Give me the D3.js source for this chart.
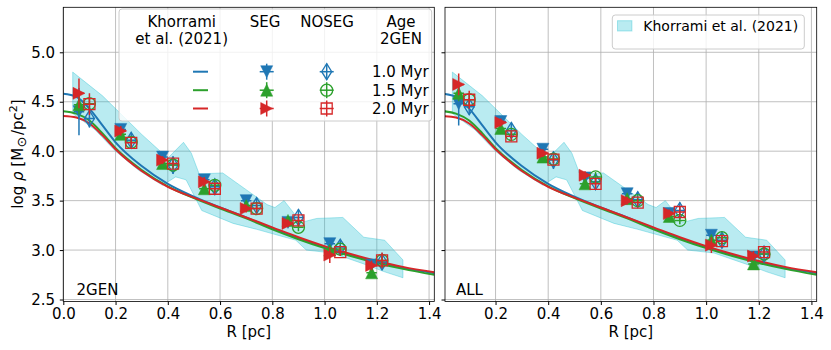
<!DOCTYPE html>
<html>
<head>
<meta charset="utf-8">
<script src="https://cdn.jsdelivr.net/npm/d3@7"></script>
<style>
  body { margin: 0; background: #fff; }
  text { font-family: "DejaVu Sans", sans-serif; fill: #000; }
</style>
</head>
<body>
<svg id="chart" width="831" height="350"></svg>
<script>
// ---- data ----
var segR = [0.06, 0.22, 0.38, 0.54, 0.70, 0.86, 1.02, 1.18];
var nosegR = [0.10, 0.26, 0.42, 0.58, 0.74, 0.90, 1.06, 1.22];
var ageLabels = ["1.0 Myr", "1.5 Myr", "2.0 Myr"];
var xErr = 0.02;

// fitted profiles (log rho vs R)
var fitR = [0, 0.05, 0.1, 0.15, 0.2, 0.3, 0.4, 0.5, 0.6, 0.7, 0.8, 0.9, 1.0, 1.1, 1.2, 1.3, 1.42];
var fitBlue = [4.58, 4.55, 4.43, 4.26, 4.09, 3.85, 3.67, 3.54, 3.43, 3.33, 3.22, 3.12, 3.03, 2.95, 2.88, 2.82, 2.765];
var fitGreen = [4.405, 4.38, 4.31, 4.18, 4.03, 3.81, 3.645, 3.525, 3.42, 3.32, 3.21, 3.11, 3.02, 2.94, 2.87, 2.81, 2.75];
var fitRed = [4.355, 4.34, 4.28, 4.16, 4.02, 3.80, 3.64, 3.53, 3.43, 3.33, 3.23, 3.13, 3.04, 2.96, 2.89, 2.83, 2.775];

// Khorrami et al. (2021) band
var bandHiR = [0.036, 0.15, 0.30, 0.40, 0.46, 0.49, 0.52, 0.61, 0.78, 0.81, 0.845, 0.91, 0.97, 1.07, 1.15, 1.23, 1.30];
var bandHi = [4.80, 4.56, 4.17, 3.93, 4.09, 3.98, 3.77, 3.78, 3.46, 3.43, 3.50, 3.28, 3.32, 3.33, 3.13, 3.10, 2.90];
var bandLoR = [0.036, 0.12, 0.20, 0.287, 0.38, 0.43, 0.47, 0.53, 0.65, 0.74, 0.89, 0.93, 1.03, 1.15, 1.23, 1.30];
var bandLo = [4.38, 4.22, 4.00, 3.81, 3.655, 3.74, 3.71, 3.40, 3.27, 3.21, 3.10, 3.00, 2.97, 2.86, 2.78, 2.72];

// 2GEN panel
var segBlue2 = [4.40, 4.22, 3.94, 3.71, 3.50, 3.28, 3.065, 2.85];
var segBlue2Err = [0.24, 0.04, 0.04, 0.04, 0.04, 0.04, 0.05, 0.04];
var segGreen2 = [4.47, 4.17, 3.875, 3.62, 3.45, 3.30, 3.00, 2.77];
var segGreen2Err = [0.10, 0.04, 0.03, 0.04, 0.03, 0.04, 0.04, 0.04];
var segRed2 = [4.585, 4.205, 3.91, 3.69, 3.42, 3.27, 2.95, 2.845];
var segRed2Err = [0.15, 0.05, 0.04, 0.05, 0.04, 0.04, 0.08, 0.05];
var nosegBlue2 = [4.33, 4.11, 3.86, 3.64, 3.45, 3.33, 3.03, 2.88];
var nosegBlue2Err = [0.09, 0.08, 0.09, 0.08, 0.08, 0.08, 0.07, 0.07];
var nosegGreen2 = [4.48, 4.09, 3.86, 3.655, 3.42, 3.23, 3.01, 2.895];
var nosegGreen2Err = [0.06, 0.04, 0.04, 0.05, 0.04, 0.04, 0.04, 0.04];
var nosegRed2 = [4.475, 4.085, 3.875, 3.62, 3.42, 3.30, 2.98, 2.895];
var nosegRed2Err = [0.11, 0.05, 0.04, 0.05, 0.04, 0.05, 0.04, 0.08];

// ALL panel
var segBlueA = [4.48, 4.30, 4.02, 3.73, 3.57, 3.37, 3.15, 2.93];
var segBlueAErr = [0.22, 0.04, 0.04, 0.04, 0.04, 0.04, 0.04, 0.04];
var segGreenA = [4.585, 4.23, 3.94, 3.67, 3.52, 3.34, 3.10, 2.86];
var segGreenAErr = [0.08, 0.04, 0.03, 0.04, 0.03, 0.04, 0.04, 0.04];
var segRedA = [4.675, 4.29, 3.98, 3.757, 3.50, 3.37, 3.05, 2.94];
var segRedAErr = [0.11, 0.04, 0.04, 0.04, 0.04, 0.04, 0.08, 0.05];
var nosegBlueA = [4.45, 4.21, 3.91, 3.69, 3.51, 3.40, 3.10, 2.96];
var nosegBlueAErr = [0.08, 0.08, 0.09, 0.08, 0.08, 0.08, 0.07, 0.06];
var nosegGreenA = [4.52, 4.17, 3.92, 3.74, 3.50, 3.30, 3.125, 2.96];
var nosegGreenAErr = [0.06, 0.04, 0.04, 0.05, 0.04, 0.04, 0.04, 0.04];
var nosegRedA = [4.52, 4.15, 3.915, 3.67, 3.48, 3.385, 3.09, 2.98];
var nosegRedAErr = [0.09, 0.05, 0.04, 0.05, 0.04, 0.05, 0.05, 0.05];

var xTickVals = [0, 0.2, 0.4, 0.6, 0.8, 1.0, 1.2, 1.4];
var yTickVals = [2.5, 3.0, 3.5, 4.0, 4.5, 5.0];

// ---- styles ----
var blue = "#1f77b4", green = "#2ca02c", red = "#d62728", cyan = "#17becf";
var svg = d3.select("#chart");
var plotTop = 7.3, plotBottom = 301.5;

var y = d3.scaleLinear().domain([2.48, 5.455]).range([plotBottom, plotTop]);

function markerPath(type) {
  switch (type) {
    case "v": return "M-6,-6L6,-6L0,6Z";
    case "^": return "M-6,6L6,6L0,-6Z";
    case ">": return "M-6,-6L6,0L-6,6Z";
    case "d": return "M0,-8L5,0L0,8L-5,0Z";
    case "s": return "M-5.5,-5.5H5.5V5.5H-5.5Z";
    case "o": return d3.arc()({innerRadius: 0, outerRadius: 6, startAngle: 0, endAngle: 2 * Math.PI});
  }
}

function makeSeries(r, vals, errs, color, marker) {
  return r.map(function (d, i) {
    return {r: d, v: vals[i], e: errs[i], color: color, marker: marker};
  });
}

var panels = [
  {
    id: "p2gen", x0: 63.3, x1: 434.3, xDomain: [0, 1.42], ticks: xTickVals,
    yLabels: true, tag: "2GEN", tagX: 76.5,
    series: [
      makeSeries(segR, segBlue2, segBlue2Err, blue, "v"),
      makeSeries(nosegR, nosegBlue2, nosegBlue2Err, blue, "d"),
      makeSeries(segR, segGreen2, segGreen2Err, green, "^"),
      makeSeries(nosegR, nosegGreen2, nosegGreen2Err, green, "o"),
      makeSeries(segR, segRed2, segRed2Err, red, ">"),
      makeSeries(nosegR, nosegRed2, nosegRed2Err, red, "s")
    ]
  },
  {
    id: "pall", x0: 445, x1: 816.7, xDomain: [0.008, 1.42], ticks: xTickVals.slice(1),
    yLabels: false, tag: "ALL", tagX: 456,
    series: [
      makeSeries(segR, segBlueA, segBlueAErr, blue, "v"),
      makeSeries(nosegR, nosegBlueA, nosegBlueAErr, blue, "d"),
      makeSeries(segR, segGreenA, segGreenAErr, green, "^"),
      makeSeries(nosegR, nosegGreenA, nosegGreenAErr, green, "o"),
      makeSeries(segR, segRedA, segRedAErr, red, ">"),
      makeSeries(nosegR, nosegRedA, nosegRedAErr, red, "s")
    ]
  }
];

panels.forEach(drawPanel);

function drawPanel(p) {
  var x = d3.scaleLinear().domain(p.xDomain).range([p.x0, p.x1]);
  var g = svg.append("g");

  svg.append("clipPath").attr("id", "clip-" + p.id)
    .append("rect").attr("x", p.x0).attr("y", plotTop)
    .attr("width", p.x1 - p.x0).attr("height", plotBottom - plotTop);

  // grid
  g.append("g").selectAll("line").data(p.ticks).join("line")
    .attr("x1", function (d) { return x(d); }).attr("x2", function (d) { return x(d); })
    .attr("y1", plotTop).attr("y2", plotBottom)
    .attr("stroke", "#b0b0b0").attr("stroke-width", 0.8);
  g.append("g").selectAll("line").data(yTickVals).join("line")
    .attr("x1", p.x0).attr("x2", p.x1)
    .attr("y1", function (d) { return y(d); }).attr("y2", function (d) { return y(d); })
    .attr("stroke", "#b0b0b0").attr("stroke-width", 0.8);

  var plot = g.append("g").attr("clip-path", "url(#clip-" + p.id + ")");

  // band
  var bandPts = bandHiR.map(function (r, i) { return [x(r), y(bandHi[i])]; })
    .concat(bandLoR.map(function (r, i) { return [x(r), y(bandLo[i])]; }).reverse());
  plot.append("path")
    .attr("d", d3.line()(bandPts) + "Z")
    .attr("fill", cyan).attr("fill-opacity", 0.3)
    .attr("stroke", cyan).attr("stroke-opacity", 0.35).attr("stroke-width", 1);

  // fits
  var line = d3.line()
    .x(function (d) { return x(d[0]); })
    .y(function (d) { return y(d[1]); })
    .curve(d3.curveMonotoneX);
  [[fitBlue, blue], [fitGreen, green], [fitRed, red]].forEach(function (f) {
    plot.append("path")
      .attr("d", line(fitR.map(function (r, i) { return [r, f[0][i]]; })))
      .attr("fill", "none").attr("stroke", f[1]).attr("stroke-width", 2);
  });

  // error bars + markers
  p.series.forEach(function (s) {
    var open = "dos".indexOf(s[0].marker) >= 0;
    var sg = plot.append("g");
    var pts = sg.selectAll("g").data(s).join("g");
    pts.append("line")
      .attr("x1", function (d) { return x(d.r); }).attr("x2", function (d) { return x(d.r); })
      .attr("y1", function (d) { return y(d.v - d.e); }).attr("y2", function (d) { return y(d.v + d.e); })
      .attr("stroke", function (d) { return d.color; }).attr("stroke-width", 1.5);
    pts.append("line")
      .attr("x1", function (d) { return x(d.r - xErr); }).attr("x2", function (d) { return x(d.r + xErr); })
      .attr("y1", function (d) { return y(d.v); }).attr("y2", function (d) { return y(d.v); })
      .attr("stroke", function (d) { return d.color; }).attr("stroke-width", 1.5);
    pts.append("path")
      .attr("transform", function (d) { return "translate(" + x(d.r) + "," + y(d.v) + ")"; })
      .attr("d", function (d) { return markerPath(d.marker); })
      .attr("fill", function (d) { return open ? "none" : d.color; })
      .attr("stroke", function (d) { return d.color; })
      .attr("stroke-width", open ? 1.3 : 0.5);
  });

  // axes
  var xAxis = d3.axisBottom(x).tickValues(p.ticks).tickFormat(d3.format(".1f"))
    .tickSize(3.5).tickSizeOuter(0);
  var ax = svg.append("g").attr("transform", "translate(0," + plotBottom + ")").call(xAxis);
  ax.select(".domain").remove();
  ax.selectAll("text").attr("y", 17.8).attr("dy", null)
    .style("font-size", "15px").style("font-family", "DejaVu Sans");

  var yAxis = d3.axisLeft(y).tickValues(yTickVals).tickSize(3.5).tickSizeOuter(0)
    .tickFormat(p.yLabels ? d3.format(".1f") : function () { return ""; });
  var ay = svg.append("g").attr("transform", "translate(" + p.x0 + ",0)").call(yAxis);
  ay.select(".domain").remove();
  ay.selectAll("text").attr("x", -8.3).attr("dy", "0.35em")
    .style("font-size", "15px").style("font-family", "DejaVu Sans");

  svg.append("rect")
    .attr("x", p.x0).attr("y", plotTop).attr("width", p.x1 - p.x0).attr("height", plotBottom - plotTop)
    .attr("fill", "none").attr("stroke", "#000").attr("stroke-width", 0.8);

  svg.append("text").attr("x", p.tagX).attr("y", 294.5).style("font-size", "15px").text(p.tag);

  svg.append("text").attr("x", (p.x0 + p.x1) / 2).attr("y", 337)
    .attr("text-anchor", "middle").style("font-size", "15px").text("R [pc]");
}

// y label
var yl = svg.append("text")
  .attr("transform", "translate(22.5,154) rotate(-90)")
  .attr("text-anchor", "middle").style("font-size", "15px");
yl.append("tspan").text("log ");
yl.append("tspan").attr("font-style", "italic").text("ρ");
yl.append("tspan").text(" [M");
yl.append("tspan").attr("dy", 3).attr("dx", 0.5).style("font-size", "13px").text("⊙");
yl.append("tspan").attr("dy", -3).attr("dx", 1.5).text("/pc");
yl.append("tspan").attr("dy", -6).style("font-size", "11px").text("2");
yl.append("tspan").attr("dy", 6).text("]");

// ---- left legend (table) ----
var lg = svg.append("g");
lg.append("rect").attr("x", 119).attr("y", 9).attr("width", 312.7).attr("height", 112)
  .attr("rx", 3).attr("fill", "#fff").attr("fill-opacity", 0.8)
  .attr("stroke", "#cccccc").attr("stroke-width", 1);

var headers = [
  {x: 181.7, lines: ["Khorrami", "et al. (2021)"]},
  {x: 265, lines: ["SEG"]},
  {x: 327, lines: ["NOSEG"]},
  {x: 401, lines: ["Age", "2GEN"]}
];
headers.forEach(function (h) {
  h.lines.forEach(function (t, i) {
    lg.append("text").attr("x", h.x).attr("y", 26.7 + i * 16.8)
      .attr("text-anchor", "middle").style("font-size", "15px").text(t);
  });
});

var rowY = [71.7, 90.2, 108.5];
var legendRows = [
  {color: blue, seg: "v", noseg: "d"},
  {color: green, seg: "^", noseg: "o"},
  {color: red, seg: ">", noseg: "s"}
];
legendRows.forEach(function (row, i) {
  var cy = rowY[i];
  lg.append("line").attr("x1", 193).attr("x2", 208).attr("y1", cy).attr("y2", cy)
    .attr("stroke", row.color).attr("stroke-width", 2);
  [[266.7, row.seg, false], [326.7, row.noseg, true]].forEach(function (m) {
    lg.append("line").attr("x1", m[0] - 7).attr("x2", m[0] + 7).attr("y1", cy).attr("y2", cy)
      .attr("stroke", row.color).attr("stroke-width", 1.5);
    lg.append("line").attr("x1", m[0]).attr("x2", m[0]).attr("y1", cy - 8).attr("y2", cy + 8)
      .attr("stroke", row.color).attr("stroke-width", 1.5);
    lg.append("path").attr("transform", "translate(" + m[0] + "," + cy + ")")
      .attr("d", markerPath(m[1]))
      .attr("fill", m[2] ? "none" : row.color)
      .attr("stroke", row.color).attr("stroke-width", m[2] ? 1.3 : 0.5);
  });
  lg.append("text").attr("x", 372).attr("y", cy + 5.4).style("font-size", "15px").text(ageLabels[i]);
});

// ---- right legend ----
var rg = svg.append("g");
rg.append("rect").attr("x", 612.3).attr("y", 15).attr("width", 192).attr("height", 34)
  .attr("rx", 3).attr("fill", "#fff").attr("fill-opacity", 0.8)
  .attr("stroke", "#cccccc").attr("stroke-width", 1);
rg.append("rect").attr("x", 617.5).attr("y", 20.7).attr("width", 14.4).attr("height", 10.3)
  .attr("fill", cyan).attr("fill-opacity", 0.3)
  .attr("stroke", cyan).attr("stroke-opacity", 0.35);
rg.append("text").attr("x", 643.3).attr("y", 31).style("font-size", "14px").text("Khorrami et al. (2021)");
</script>
</body>
</html>
